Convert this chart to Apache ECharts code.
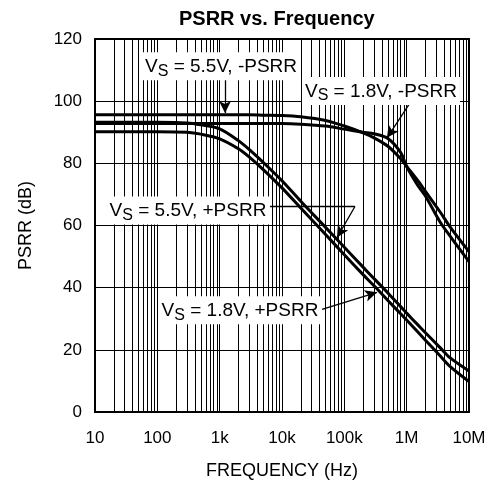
<!DOCTYPE html>
<html>
<head>
<meta charset="utf-8">
<script src="https://cdn.jsdelivr.net/npm/echarts@6/dist/echarts.min.js"></script>
<style>
  html, body { margin: 0; padding: 0; background: #fff; }
  #chart { width: 492px; height: 485px; }
</style>
</head>
<body>
<div id="chart"></div>
<script>
// frequency points (Hz) shared by all four curves
const freqHz = [10, 100, 300, 500, 1e3, 2e3, 3e3, 5e3, 1e4, 2e4, 5e4, 1e5, 2e5, 3e5, 5e5, 8e5, 1e6, 1.5e6, 2e6, 3.4e6, 5e6, 1e7]

// PSRR values (dB)
const neg55 = [95.6, 95.6, 95.6, 95.6, 95.6, 95.6, 95.6, 95.5, 95.4, 95, 93.8, 92, 89.8, 88.2, 85.5, 81.5, 79, 74.5, 71, 64.5, 59.5, 51.6]
const neg18 = [92.8, 92.8, 92.8, 92.8, 92.8, 92.8, 92.8, 92.8, 92.8, 92.6, 92, 91, 90, 89.5, 88, 83.5, 79, 73, 69.5, 61.3, 56.5, 48.4]
const pos55 = [93.2, 93.2, 93, 92.4, 91.1, 87.3, 84.4, 80.3, 74.4, 67.8, 59.4, 53, 46.6, 42.9, 38.3, 33.9, 31.8, 28.1, 25.5, 20.8, 17.4, 13.2]
const pos18 = [90.2, 90.2, 90, 89.4, 87.9, 84.7, 82, 78, 72.1, 65.6, 57.1, 50.6, 44.2, 40.6, 35.9, 31.6, 29.6, 25.8, 23.1, 18.2, 14.6, 9.8]

// axis ticks
const xDecades = [10, 100, 1e3, 1e4, 1e5, 1e6, 1e7]
const xTickLabels = ['10', '100', '1k', '10k', '100k', '1M', '10M']
const yTicks = [0, 20, 40, 60, 80, 100, 120]

const FONT = 'Liberation Sans, Arial, sans-serif'

// minor log grid lines 2..9 of every decade
const minorLines = []
xDecades.slice(0, -1).forEach((d) => {
  for (let k = 2; k <= 9; k++) minorLines.push({ xAxis: d * k })
})

function pairs(vals) {
  return freqHz.map((f, i) => [f, vals[i]])
}

// annotation boxes: [freq, dB] of the box centre, supply, sign
const notes = [
  { at: [1051, 111.2], supply: '5.5V', sign: '-PSRR' },
  { at: [387000, 103.3], supply: '1.8V', sign: '-PSRR' },
  { at: [310, 64.8], supply: '5.5V', sign: '+PSRR' },
  { at: [2119, 32.7], supply: '1.8V', sign: '+PSRR' },
]
// leader lines [from, to, arrow?]
const leaders = [
  [[1218, 106.8], [1218, 96.2], true],
  [[1219000, 100.4], [484000, 88.2], true],
  [[6430, 66.1], [148000, 66.1], false],
  [[148000, 66.1], [76400, 56.1], true],
  [[43900, 33.0], [334000, 38.5], true],
]

const chart = echarts.init(document.getElementById('chart'))

const curve = (name, vals) => ({
  name,
  type: 'line',
  data: pairs(vals),
  showSymbol: false,
  smooth: 0.3,
  lineStyle: { color: '#000', width: 3 },
  silent: true,
  z: 5,
})

const option = {
  animation: false,
  backgroundColor: '#fff',
  title: {
    text: 'PSRR vs. Frequency',
    left: 174,
    top: 4,
    textStyle: { fontFamily: FONT, fontSize: 20, fontWeight: 'bold', color: '#000' },
  },
  grid: {
    left: 95,
    right: 23,
    top: 39,
    bottom: 72,
    show: true,
    borderColor: '#000',
    borderWidth: 2,
  },
  xAxis: {
    type: 'log',
    logBase: 10,
    min: 10,
    max: 1e7,
    name: 'FREQUENCY (Hz)',
    nameLocation: 'middle',
    nameGap: 50,
    nameTextStyle: { fontFamily: FONT, fontSize: 18, color: '#000' },
    axisLine: { show: true, lineStyle: { color: '#000', width: 2 } },
    axisTick: { show: false },
    axisLabel: {
      fontFamily: FONT,
      fontSize: 17,
      color: '#000',
      margin: 18,
      formatter: (v) => {
        const i = xDecades.findIndex((d) => Math.abs(d - v) / d < 1e-6)
        return i >= 0 ? xTickLabels[i] : ''
      },
    },
    splitLine: { show: true, lineStyle: { color: '#000', width: 1 } },
  },
  yAxis: {
    type: 'value',
    min: yTicks[0],
    max: yTicks[yTicks.length - 1],
    interval: 20,
    name: 'PSRR (dB)',
    nameLocation: 'middle',
    nameGap: 60,
    nameTextStyle: { fontFamily: FONT, fontSize: 18, color: '#000' },
    axisLine: { show: true, lineStyle: { color: '#000', width: 2 } },
    axisTick: { show: false },
    axisLabel: { fontFamily: FONT, fontSize: 17, color: '#000', margin: 13 },
    splitLine: { show: true, lineStyle: { color: '#000', width: 1 } },
  },
  series: [
    {
      // carrier for the minor grid lines
      name: 'grid',
      type: 'line',
      data: [[10, 0], [1e7, 0]],
      showSymbol: false,
      lineStyle: { opacity: 0 },
      silent: true,
      z: 1,
      markLine: {
        silent: true,
        symbol: 'none',
        label: { show: false },
        lineStyle: { color: '#000', width: 1, type: 'solid' },
        emphasis: { disabled: true },
        data: minorLines,
      },
    },
    curve('VS = 5.5V, -PSRR', neg55),
    curve('VS = 1.8V, -PSRR', neg18),
    curve('VS = 5.5V, +PSRR', pos55),
    curve('VS = 1.8V, +PSRR', pos18),
    {
      name: 'notes',
      type: 'line',
      data: [],
      silent: true,
      z: 6,
      markLine: {
        silent: true,
        label: { show: false },
        emphasis: { disabled: true },
        lineStyle: { color: '#000', width: 1.3, type: 'solid' },
        data: leaders.map(([a, b, arrow]) => [
          { coord: a, symbol: 'none' },
          { coord: b, symbol: arrow ? 'arrow' : 'none', symbolSize: [9, 12] },
        ]),
      },
      markPoint: {
        silent: true,
        symbol: 'circle',
        symbolSize: 1,
        itemStyle: { color: 'rgba(0,0,0,0)' },
        data: notes.map((n) => ({
          coord: n.at,
          label: {
            show: true,
            position: 'inside',
            formatter: `{v|V}{s|S}{t| = ${n.supply}, ${n.sign}}`,
            backgroundColor: '#fff',
            padding: [2, 3, 1, 3],
            rich: {
              v: { fontFamily: FONT, fontSize: 19, color: '#000' },
              s: { fontFamily: FONT, fontSize: 16, color: '#000', padding: [9, 0, 0, 0] },
              t: { fontFamily: FONT, fontSize: 19, color: '#000' },
            },
          },
        })),
      },
    },
  ],
}

chart.setOption(option)
</script>
</body>
</html>
